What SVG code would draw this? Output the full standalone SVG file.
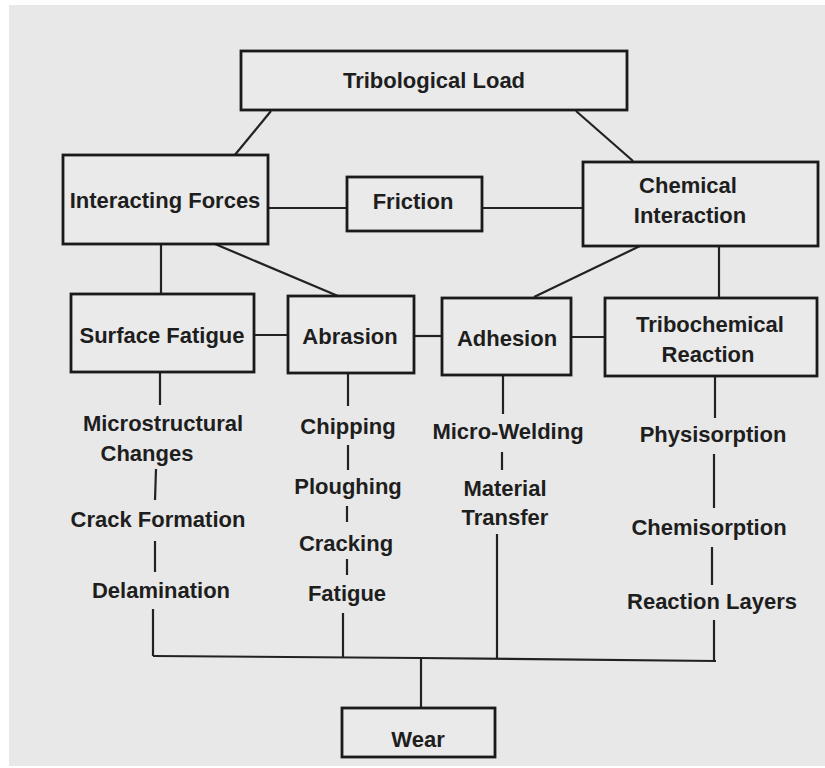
<svg xmlns="http://www.w3.org/2000/svg" width="825" height="768" viewBox="0 0 825 768">
<style>
.box{fill:#eaeaea;stroke:#1a1a1a;stroke-width:2.8}
.ln{stroke:#222;stroke-width:2.2;fill:none}
text{font-family:"Liberation Sans",Arial,sans-serif;font-weight:bold;font-size:22px;fill:#1e1e1e;text-anchor:middle}
</style>
<rect width="825" height="768" fill="#ffffff"/>
<rect x="9" y="5" width="816" height="761" fill="#e8e8e8"/>
<g id="connectors">
<line class="ln" x1="271" y1="111" x2="234" y2="156"/>
<line class="ln" x1="576" y1="111" x2="633" y2="161"/>
<line class="ln" x1="268" y1="208" x2="347" y2="208"/>
<line class="ln" x1="482" y1="208" x2="583" y2="208"/>
<line class="ln" x1="161" y1="244" x2="161" y2="294"/>
<line class="ln" x1="215" y1="244" x2="338" y2="296"/>
<line class="ln" x1="640" y1="246" x2="534" y2="297"/>
<line class="ln" x1="719" y1="246" x2="719" y2="298"/>
<line class="ln" x1="254" y1="335" x2="288" y2="335"/>
<line class="ln" x1="414" y1="336" x2="442" y2="336"/>
<line class="ln" x1="571" y1="337" x2="605" y2="337"/>
<line class="ln" x1="160" y1="372" x2="160" y2="405"/>
<line class="ln" x1="156" y1="469" x2="155" y2="500"/>
<line class="ln" x1="155" y1="541" x2="155" y2="572"/>
<line class="ln" x1="153" y1="609" x2="153" y2="656"/>
<line class="ln" x1="348" y1="373" x2="348" y2="406"/>
<line class="ln" x1="348" y1="445" x2="348" y2="470"/>
<line class="ln" x1="347" y1="506" x2="347" y2="522"/>
<line class="ln" x1="347" y1="559" x2="347" y2="575"/>
<line class="ln" x1="343" y1="613" x2="343" y2="657"/>
<line class="ln" x1="503" y1="375" x2="503" y2="414"/>
<line class="ln" x1="502" y1="452" x2="502" y2="470"/>
<line class="ln" x1="497" y1="534" x2="497" y2="658"/>
<line class="ln" x1="715" y1="377" x2="715" y2="418"/>
<line class="ln" x1="714" y1="454" x2="714" y2="508"/>
<line class="ln" x1="712" y1="547" x2="712" y2="585"/>
<line class="ln" x1="714" y1="620" x2="714" y2="661"/>
<polyline class="ln" points="153,656 420,658 716,661"/>
<line class="ln" x1="421" y1="658" x2="421" y2="708"/>
</g>
<g id="tribological-load"><rect class="box" x="241" y="51" width="386" height="59"/><text x="434" y="88">Tribological Load</text></g>
<g id="interacting-forces"><rect class="box" x="63" y="155" width="205" height="89"/><text x="165" y="208">Interacting Forces</text></g>
<g id="friction"><rect class="box" x="347" y="177" width="135" height="54"/><text x="413" y="209">Friction</text></g>
<g id="chemical-interaction"><rect class="box" x="583" y="162" width="235" height="84"/><text x="688" y="193">Chemical</text><text x="690" y="223">Interaction</text></g>
<g id="surface-fatigue"><rect class="box" x="71" y="294" width="183" height="78"/><text x="162" y="343">Surface Fatigue</text></g>
<g id="abrasion"><rect class="box" x="288" y="296" width="126" height="77"/><text x="350" y="344">Abrasion</text></g>
<g id="adhesion"><rect class="box" x="442" y="298" width="129" height="77"/><text x="507" y="346">Adhesion</text></g>
<g id="tribochemical-reaction"><rect class="box" x="605" y="298" width="212" height="78"/><text x="710" y="332">Tribochemical</text><text x="708" y="362">Reaction</text></g>
<g id="surface-fatigue-items"><text x="163" y="431">Microstructural</text><text x="147" y="461">Changes</text><text x="158" y="527">Crack Formation</text><text x="161" y="598">Delamination</text></g>
<g id="abrasion-items"><text x="348" y="434">Chipping</text><text x="348" y="494">Ploughing</text><text x="346" y="551">Cracking</text><text x="347" y="601">Fatigue</text></g>
<g id="adhesion-items"><text x="508" y="439">Micro-Welding</text><text x="505" y="496">Material</text><text x="505" y="525">Transfer</text></g>
<g id="tribochemical-items"><text x="713" y="442">Physisorption</text><text x="709" y="535">Chemisorption</text><text x="712" y="609">Reaction Layers</text></g>
<g id="wear"><rect class="box" x="342" y="708" width="153" height="49"/><text x="418" y="747">Wear</text></g>
</svg>
